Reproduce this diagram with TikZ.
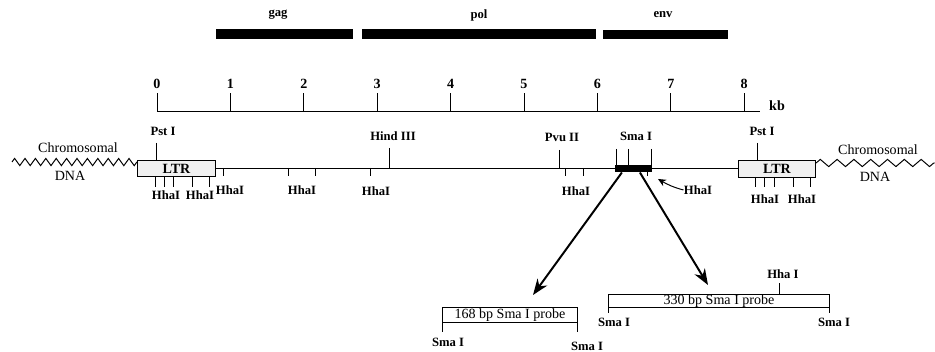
\documentclass[tikz,border=0pt]{standalone}
\usepackage{fontspec}
\setmainfont{Liberation Serif}
\usetikzlibrary{arrows.meta, decorations.pathmorphing}

\begin{document}
\begin{tikzpicture}[
    x=0.025cm, y=-0.025cm,
    line width=0.7pt,
    gene/.style={font=\fontsize{9}{10}\selectfont\bfseries},
    scalenum/.style={font=\fontsize{10}{11}\selectfont\bfseries, inner sep=0pt},
    site/.style={font=\fontsize{9}{10}\selectfont\bfseries, inner sep=0pt},
    chrom/.style={font=\fontsize{10}{11}\selectfont, inner sep=0pt},
    ltr/.style={draw, fill=gray!12, minimum width=1.93cm, minimum height=0.42cm, inner sep=0pt, font=\fontsize{10}{11}\selectfont\bfseries},
    probe/.style={draw, inner sep=0pt, font=\fontsize{10}{11}\selectfont, text height=7pt, text depth=2pt},
    zigL/.style={decorate, decoration={zigzag, amplitude=0.09cm, segment length=0.26cm}},
    zigR/.style={decorate, decoration={zigzag, amplitude=0.09cm, segment length=0.42cm}},
    bigarrow/.style={line width=1.4pt, -{Stealth[length=4mm, width=3mm]}},
    smallarrow/.style={-{Stealth[length=2mm, width=1.8mm]}}
]

\useasboundingbox (0,0) rectangle (935,352);

% Gene bars
\fill (216,29) rectangle (353,39);
\fill (362,29) rectangle (596,39);
\fill (603,30) rectangle (728,39);
\node[gene] (gag) at (278,15) {gag};
\node[gene] (pol) at (479,15) {pol};
\node[gene] (env) at (663,15) {env};

% Scale in kb
\draw (157,111) -- (760,111);
\foreach \i in {0,...,8} {
    \draw (157+73.4*\i,111) -- (157+73.4*\i,93);
    \node[scalenum] (n\i) at (157+73.4*\i,84) {\i};
}
\node[scalenum] (kb) at (777,106) {kb};

% Provirus with LTRs
\draw (215,168) -- (738,168);
\node[ltr] (ltrL) at (176.5,168.5) {LTR};
\node[ltr] (ltrR) at (777,169) {LTR};
\node[fill, minimum width=0.925cm, minimum height=0.175cm, inner sep=0pt] (smabox) at (633.5,168.5) {};

% Chromosomal DNA
\draw[zigL] (12,162) -- ([yshift=0.16cm]ltrL.west);
\draw[zigR] ([yshift=0.15cm]ltrR.east) -- (935,163);
\node[chrom] (chromL) at (78,148) {Chromosomal};
\node[chrom] (dnaL) at (70,176) {DNA};
\node[chrom] (chromR) at (878,150) {Chromosomal};
\node[chrom] (dnaR) at (875,177) {DNA};

% Sites above the line
\draw (156,143) -- (156,160);
\draw (757,143) -- (757,161);
\draw (389,148) -- (389,168);
\draw (559,150) -- (559,168);
\foreach \x in {616,628,651}
    \draw (\x,149) -- (\x,165);
\node[site] (pstL) at (163,131) {Pst I};
\node[site] (hind) at (393,136) {Hind III};
\node[site] (pvu) at (562,137) {Pvu II};
\node[site] (sma) at (636,136) {Sma I};
\node[site] (pstR) at (762,131) {Pst I};

% HhaI sites below the line
\foreach \x in {155,164,173,192,209,755,764,774,793,810}
    \draw (\x,177) -- (\x,187);
\foreach \x in {223,288,315,370,565,583}
    \draw (\x,168) -- (\x,176);
\draw (647,172) -- (647,176);
\foreach \x/\y [count=\k] in {166/195, 200/195, 230/190, 302/190, 376/191, 576/191, 698/190, 765/199, 802/199}
    \node[site] (hha\k) at (\x,\y) {HhaI};
\coordinate (hhaTip) at (658,179);
\draw[smallarrow] (hha7.west) to[out=165, in=-30] (hhaTip);

% Probes
\coordinate (tipS) at (533,295);
\coordinate (tipL) at (708,285);
\draw[bigarrow] ([xshift=-0.29cm]smabox.south) -- (tipS);
\draw[bigarrow] ([xshift=0.16cm]smabox.south) -- (tipL);

\node[probe, minimum width=3.35cm, minimum height=0.375cm] (probeS) at (510,314.5) {168 bp Sma I probe};
\draw (probeS.south west) -- ++(0,10);
\draw (probeS.south east) -- ++(0,10);
\node[site] (smaS1) at (448,342) {Sma I};
\node[site] (smaS2) at (587,346) {Sma I};

\node[probe, minimum width=5.5cm, minimum height=0.325cm] (probeL) at (719,300.5) {330 bp Sma I probe};
\draw (probeL.south west) -- ++(0,6);
\draw (probeL.south east) -- ++(0,6);
\draw (779,294) -- (779,283);
\node[site] (hhaP) at (783,274) {Hha I};
\node[site] (smaL1) at (614,322) {Sma I};
\node[site] (smaL2) at (834,322) {Sma I};

\end{tikzpicture}
\end{document}
